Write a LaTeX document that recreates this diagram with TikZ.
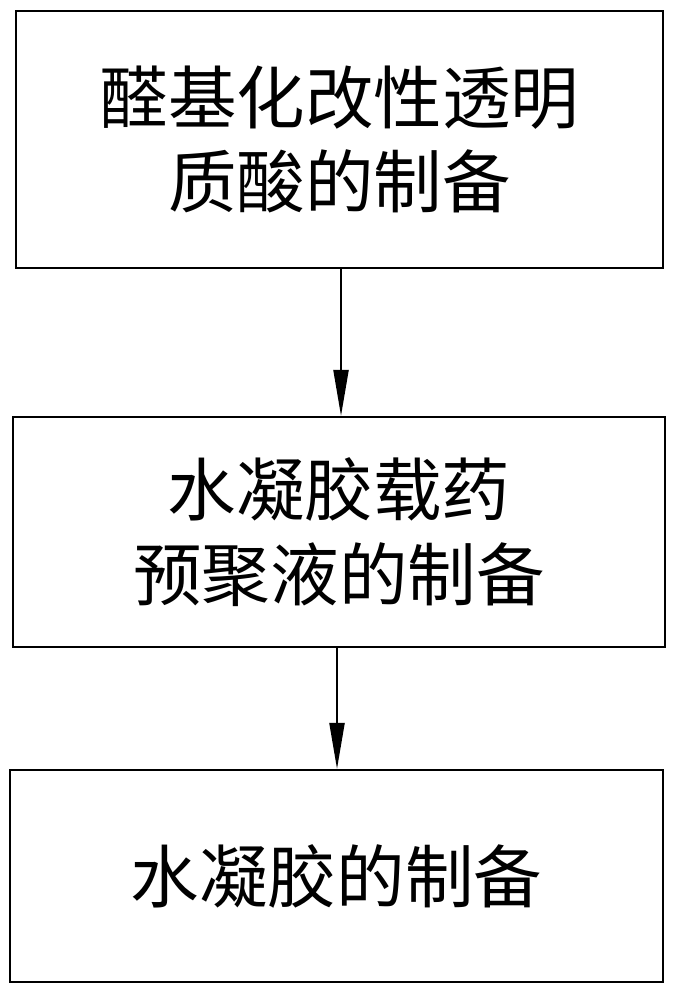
\documentclass[tikz,border=0pt]{standalone}
\usepackage{fontspec}
\setmainfont{Noto Sans CJK SC}
\usetikzlibrary{arrows.meta}
\begin{document}
\begin{tikzpicture}[font=\fontsize{19.5}{24}\selectfont,
  stepbox/.style={draw, line width=0.6pt, align=center, inner sep=0pt},
  flow/.style={-{Triangle[length=4.6mm, width=1.5mm]}, line width=0.6pt}]
\useasboundingbox (0,0) rectangle (6.76,-10);
\node[stepbox, minimum width=6.47cm, minimum height=2.57cm] (prep) at (3.395,-1.395) {醛基化改性透明\\质酸的制备};
\node[stepbox, minimum width=6.52cm, minimum height=2.30cm] (pre) at (3.39,-5.32) {水凝胶载药\\预聚液的制备};
\node[stepbox, minimum width=6.53cm, minimum height=2.12cm] (gel) at (3.365,-8.76) {水凝胶的制备};
\draw[flow] ([xshift=0.15mm]prep.south) -- ([xshift=0.15mm]prep.south |- pre.north);
\draw[flow] ([xshift=-0.2mm]pre.south) -- ([xshift=-0.2mm]pre.south |- gel.north);
\end{tikzpicture}
\end{document}
